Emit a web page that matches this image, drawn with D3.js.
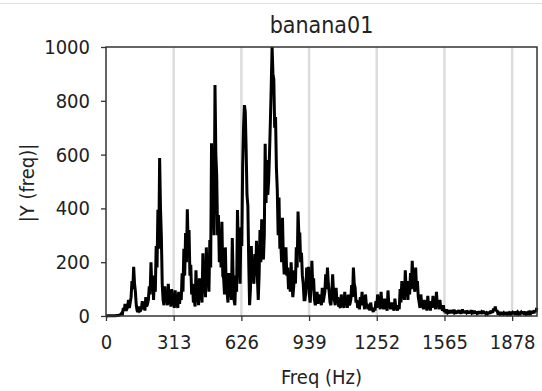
<!DOCTYPE html>
<html>
<head>
<meta charset="utf-8">
<script src="https://cdn.jsdelivr.net/npm/d3@7"></script>
<style>
  body { margin: 0; background: #fff; }
  svg text { font-family: 'DejaVu Sans Condensed', 'DejaVu Sans', sans-serif; fill: #222; }
</style>
</head>
<body>
<svg id="chart" width="542" height="391"></svg>
<script>
const BIN_HZ = 4;
const amplitude = [
  0, 0, 1, 1, 1, 1, 1, 1, 1, 1, 1, 1, 2, 2, 2, 3, 4, 6, 10, 8,
  30, 18, 45, 20, 25, 35, 60, 30, 50, 70, 130, 100, 183, 120, 90, 40, 20, 15, 35, 18,
  20, 30, 55, 25, 40, 20, 70, 35, 45, 60, 110, 80, 200, 100, 150, 60, 145, 90, 260, 180,
  395, 250, 587, 400, 295, 120, 60, 40, 110, 50, 75, 40, 120, 60, 65, 35, 100, 45, 55, 30,
  95, 40, 50, 30, 90, 45, 75, 60, 159, 90, 250, 150, 308, 200, 397, 260, 320, 150, 190, 80,
  120, 50, 60, 35, 170, 70, 80, 40, 140, 60, 110, 50, 233, 120, 130, 70, 255, 110, 150, 90,
  282, 180, 642, 380, 420, 300, 859, 600, 520, 300, 375, 200, 320, 180, 350, 150, 140, 80, 255, 100,
  90, 50, 160, 70, 120, 60, 290, 140, 60, 40, 150, 90, 394, 250, 200, 120, 330, 260, 560, 700,
  784, 760, 620, 450, 410, 200, 40, 100, 260, 130, 150, 120, 230, 150, 280, 140, 60, 150, 320, 200,
  360, 240, 210, 300, 640, 420, 580, 450, 500, 600, 720, 850, 1000, 900, 880, 700, 740, 550, 470, 300,
  440, 250, 280, 200, 365, 220, 155, 180, 255, 150, 180, 100, 160, 90, 200, 120, 70, 110, 170, 120,
  255, 180, 388, 300, 310, 200, 235, 150, 120, 60, 60, 90, 180, 100, 183, 80, 50, 100, 205, 110,
  140, 60, 40, 60, 90, 45, 80, 50, 60, 40, 105, 50, 70, 90, 155, 100, 180, 120, 90, 50,
  40, 80, 155, 90, 60, 40, 105, 50, 70, 35, 40, 30, 80, 40, 50, 30, 90, 40, 55, 30,
  80, 40, 45, 60, 115, 70, 180, 120, 105, 50, 60, 30, 40, 25, 70, 40, 90, 45, 50, 25,
  80, 40, 45, 25, 40, 20, 50, 25, 25, 15, 30, 20, 55, 30, 80, 40, 45, 25, 90, 40,
  40, 25, 65, 30, 35, 20, 95, 40, 40, 25, 50, 30, 30, 20, 65, 30, 35, 20, 40, 25,
  100, 50, 130, 70, 80, 60, 170, 90, 100, 60, 130, 80, 160, 100, 205, 120, 120, 90, 180, 100,
  130, 70, 50, 30, 80, 40, 45, 25, 60, 35, 40, 20, 75, 35, 40, 20, 55, 30, 75, 35,
  45, 25, 90, 40, 50, 25, 60, 30, 35, 20, 40, 15, 20, 10, 25, 12, 15, 10, 22, 12,
  18, 10, 24, 12, 15, 9, 20, 12, 22, 10, 14, 9, 25, 12, 18, 10, 20, 12, 15, 9,
  18, 10, 22, 11, 14, 8, 20, 10, 16, 9, 12, 8, 18, 9, 14, 8, 20, 10, 15, 8,
  12, 8, 16, 9, 14, 10, 20, 12, 28, 20, 35, 18, 22, 10, 12, 8, 14, 8, 10, 7,
  12, 8, 10, 7, 14, 8, 12, 8, 15, 9, 13, 8, 16, 9, 12, 8, 14, 9, 15, 9,
  14, 9, 16, 10, 12, 8, 15, 9, 13, 9, 14, 10, 18, 10, 15, 11, 20, 15, 30
];
const freqTicks = [0, 313, 626, 939, 1252, 1565, 1878];
const ampTicks = [0, 200, 400, 600, 800, 1000];
const FREQ_MAX = 1993;

const WIDTH = 542, HEIGHT = 391;
const MARGIN = { TOP: 47, RIGHT: 5, BOTTOM: 75, LEFT: 106 };
const INNER_WIDTH = WIDTH - MARGIN.LEFT - MARGIN.RIGHT;
const INNER_HEIGHT = HEIGHT - MARGIN.TOP - MARGIN.BOTTOM;

const svg = d3.select('#chart');

// faint rule along the top of the image
svg.append('line')
  .attr('x1', 0).attr('x2', WIDTH)
  .attr('y1', 3.5).attr('y2', 3.5)
  .attr('stroke', '#e2e2e2');

const points = amplitude.map((a, i) => ({ freq: i * BIN_HZ, amp: a }));

const xScale = d3.scaleLinear().domain([0, FREQ_MAX]).range([0, INNER_WIDTH]);
const yScale = d3.scaleLinear().domain([0, 1000]).range([INNER_HEIGHT, 0]);

const chart = svg.append('g')
  .attr('transform', `translate(${MARGIN.LEFT}, ${MARGIN.TOP})`);

// light vertical grid at the labelled frequencies
chart.selectAll('.vgrid')
  .data(freqTicks.slice(1))
  .enter()
  .append('line')
  .attr('class', 'vgrid')
  .attr('x1', d => xScale(d)).attr('x2', d => xScale(d))
  .attr('y1', 0).attr('y2', INNER_HEIGHT)
  .attr('stroke', '#dcdcdc')
  .attr('stroke-width', 2.5);

const line = d3.line()
  .x(d => xScale(d.freq))
  .y(d => yScale(d.amp));

chart.append('path')
  .datum(points)
  .attr('d', line)
  .attr('fill', 'none')
  .attr('stroke', '#000')
  .attr('stroke-width', 3)
  .attr('stroke-linejoin', 'miter')
  .attr('stroke-miterlimit', 2);

// frame
chart.append('rect')
  .attr('width', INNER_WIDTH)
  .attr('height', INNER_HEIGHT)
  .attr('fill', 'none')
  .attr('stroke', '#333')
  .attr('stroke-width', 1.5);

const xAxis = d3.axisBottom(xScale).tickValues(freqTicks).tickFormat(d3.format('d')).tickSize(5).tickPadding(14);
const yAxis = d3.axisLeft(yScale).tickValues(ampTicks).tickFormat(d3.format('d')).tickSize(5).tickPadding(11);

const gx = chart.append('g')
  .attr('transform', `translate(0, ${INNER_HEIGHT})`)
  .call(xAxis);
const gy = chart.append('g').call(yAxis);

[gx, gy].forEach(g => {
  g.select('.domain').remove();
  g.selectAll('.tick line').attr('stroke', '#333').attr('stroke-width', 1.3);
  g.selectAll('.tick text').attr('font-size', 20).attr('fill', '#222')
    .style('font-family', "'DejaVu Sans Condensed', 'DejaVu Sans', sans-serif");
});

svg.append('text')
  .attr('x', MARGIN.LEFT + INNER_WIDTH / 2)
  .attr('y', 33)
  .attr('text-anchor', 'middle')
  .attr('font-size', 23)
  .text('banana01');

svg.append('text')
  .attr('x', MARGIN.LEFT + INNER_WIDTH / 2)
  .attr('y', 384)
  .attr('text-anchor', 'middle')
  .attr('font-size', 20)
  .text('Freq (Hz)');

svg.append('text')
  .attr('transform', 'translate(34, 183) rotate(-90)')
  .attr('text-anchor', 'middle')
  .attr('font-size', 20)
  .text('|Y (freq)|');
</script>
</body>
</html>
